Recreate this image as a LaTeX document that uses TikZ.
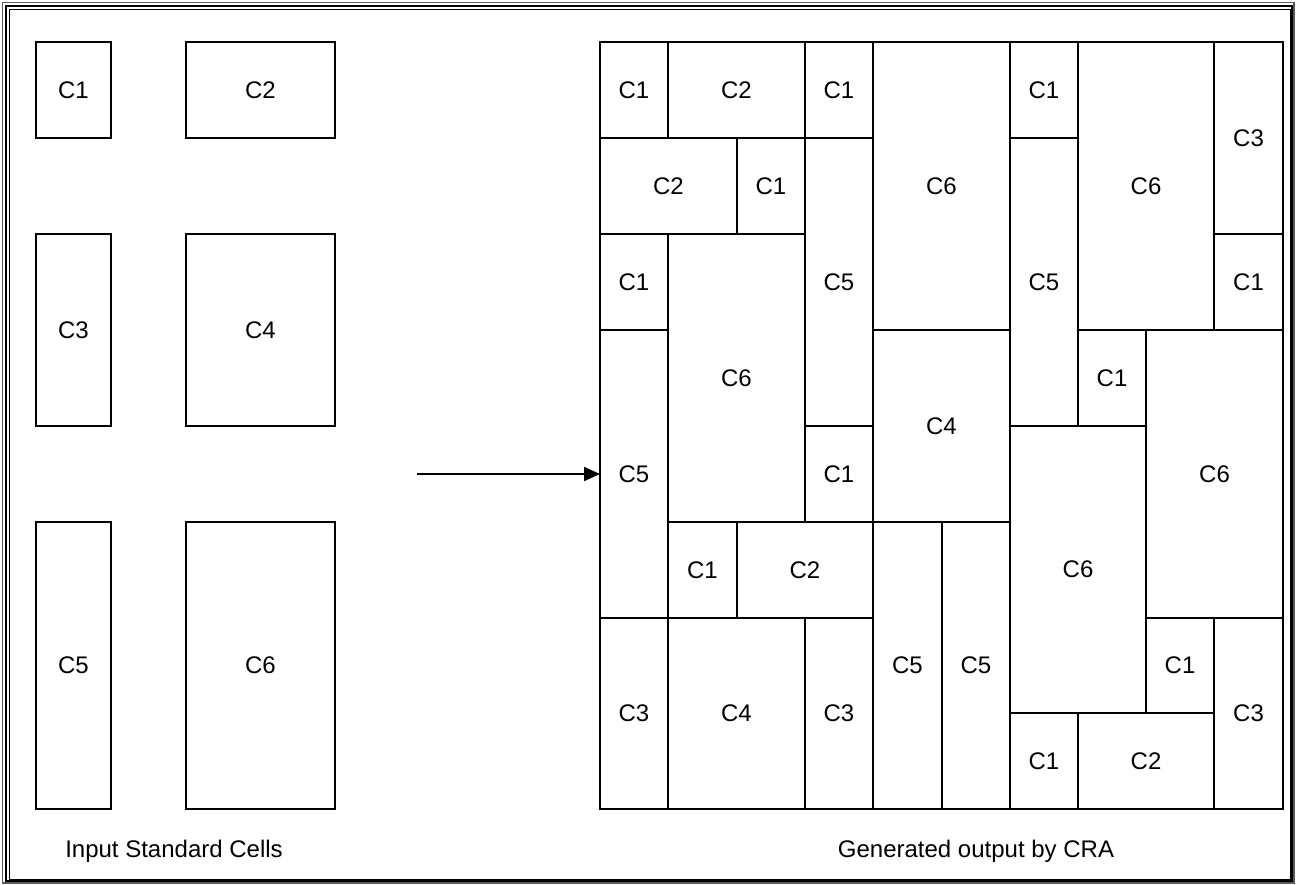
\documentclass[tikz,border=0pt]{standalone}
\usepackage{fontspec}
\setmainfont{Liberation Sans}
\usetikzlibrary{arrows.meta}
\def\gxs{{600,668,737,805,873,942,1010,1078,1146,1214,1283}}
\def\gys{{42,138,234,330,426,522,618,713,809}}
\newcommand{\gcell}[6]{%
  \pgfmathsetmacro{\xa}{\gxs[#2]}%
  \pgfmathsetmacro{\xb}{\gxs[#2+#4]}%
  \pgfmathsetmacro{\ya}{\gys[#3]}%
  \pgfmathsetmacro{\yb}{\gys[#3+#5]}%
  \node[cell, minimum width={(\xb-\xa)*1pt}, minimum height={(\yb-\ya)*1pt}] (#1)
    at ({(\xa+\xb)/2},{(\ya+\yb)/2}) {#6};}
\newcommand{\icell}[6]{%
  \node[cell, minimum width={(#4-#2)*1pt}, minimum height={(#5-#3)*1pt}] (#1)
    at ({(#2+#4)/2},{(#3+#5)/2}) {#6};}
\begin{document}
\begin{tikzpicture}[x=1pt,y=-1pt,
  cell/.style={draw=black, line width=2.2pt, inner sep=0pt, outer sep=0pt,
    font=\fontsize{24}{28}\selectfont},
  caption/.style={font=\fontsize{24}{28}\selectfont, inner sep=0pt},
  frameline/.style={draw=black, line width=1.6pt}]
\useasboundingbox (0,0) rectangle (1296,884);
% frame
\draw[draw=black!65, line width=1.8pt] (2.5,2.5) rectangle (1293.8,882.6);
\draw[frameline] (6,6) rectangle (1292,881);
\draw[draw=black, line width=1.2pt] (9.5,9.5) rectangle (1290.5,879.5);
% input standard cells
\icell{i1}{36}{42}{111}{138}{C1}
\icell{i2}{186}{42}{335}{138}{C2}
\icell{i3}{36}{234}{111}{426}{C3}
\icell{i4}{186}{234}{335}{426}{C4}
\icell{i5}{36}{522}{111}{809}{C5}
\icell{i6}{186}{522}{335}{809}{C6}
% generated output grid (col,row,w,h)
\gcell{a1}{0}{0}{1}{1}{C1}
\gcell{a2}{1}{0}{2}{1}{C2}
\gcell{a3}{3}{0}{1}{1}{C1}
\gcell{a4}{4}{0}{2}{3}{C6}
\gcell{a5}{6}{0}{1}{1}{C1}
\gcell{a6}{7}{0}{2}{3}{C6}
\gcell{a7}{9}{0}{1}{2}{C3}
\gcell{b1}{0}{1}{2}{1}{C2}
\gcell{b2}{2}{1}{1}{1}{C1}
\gcell{b3}{3}{1}{1}{3}{C5}
\gcell{b4}{6}{1}{1}{3}{C5}
\gcell{c1}{0}{2}{1}{1}{C1}
\gcell{c2}{1}{2}{2}{3}{C6}
\gcell{c3}{9}{2}{1}{1}{C1}
\gcell{d1}{0}{3}{1}{3}{C5}
\gcell{d2}{4}{3}{2}{2}{C4}
\gcell{d3}{7}{3}{1}{1}{C1}
\gcell{d4}{8}{3}{2}{3}{C6}
\gcell{e1}{3}{4}{1}{1}{C1}
\gcell{e2}{6}{4}{2}{3}{C6}
\gcell{f1}{1}{5}{1}{1}{C1}
\gcell{f2}{2}{5}{2}{1}{C2}
\gcell{f3}{4}{5}{1}{3}{C5}
\gcell{f4}{5}{5}{1}{3}{C5}
\gcell{g1}{0}{6}{1}{2}{C3}
\gcell{g2}{1}{6}{2}{2}{C4}
\gcell{g3}{3}{6}{1}{2}{C3}
\gcell{g4}{8}{6}{1}{1}{C1}
\gcell{g5}{9}{6}{1}{2}{C3}
\gcell{h1}{6}{7}{1}{1}{C1}
\gcell{h2}{7}{7}{2}{1}{C2}
% arrow
\path (d1.west) ++(-183,0) coordinate (astart);
\draw[line width=2pt, -{Triangle[length=16pt, width=14pt]}] (astart) -- (d1.west);
% captions
\node[caption] (capin) at (174,851) {Input Standard Cells};
\node[caption] (capout) at (976,851) {Generated output by CRA};
\end{tikzpicture}
\end{document}
